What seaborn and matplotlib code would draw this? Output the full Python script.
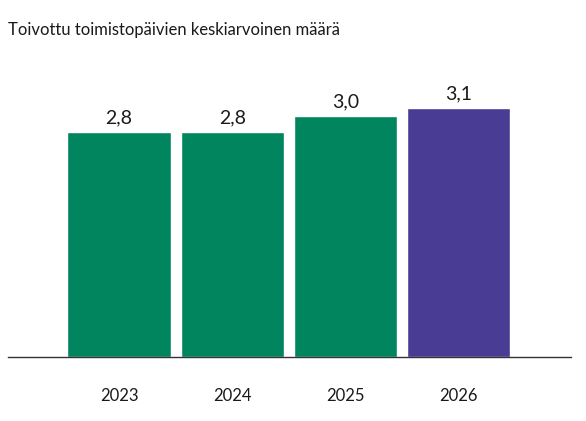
import matplotlib
matplotlib.use("Agg")
import matplotlib.pyplot as plt
import seaborn as sns
import pandas as pd

years = ["2023", "2024", "2025", "2026"]
values = [2.8, 2.8, 3.0, 3.1]
labels = ["2,8", "2,8", "3,0", "3,1"]
colors = ["#00855F", "#00855F", "#00855F", "#483C95"]

sns.set_style("white")
plt.rcParams['font.family'] = ['Lato', 'DejaVu Sans']

fig = plt.figure(figsize=(5.86, 4.21), dpi=100)
ax = fig.add_axes([8/586, 1-357/421, (571-8)/586, (357-60)/421])
df = pd.DataFrame({"year": years, "v": values})
sns.barplot(data=df, x="year", y="v", hue="year", palette=colors, width=0.91,
            legend=False, ax=ax, saturation=1)
ax.set_xlim(-0.98, 3.99)
ax.set_ylim(0, (357-60)/80.4)
for i, (v, l) in enumerate(zip(values, labels)):
    ax.text(i, v + 0.07, l, ha="center", va="bottom", fontsize=14, color="#1a1a1a")
for s in ["top", "right", "left"]:
    ax.spines[s].set_visible(False)
ax.spines["bottom"].set_color("#333333")
ax.spines["bottom"].set_linewidth(1)
ax.set_yticks([])
ax.set_xlabel("")
ax.set_ylabel("")
ax.tick_params(axis="x", length=0, pad=22, labelsize=12, labelcolor="#1a1a1a")
fig.text(8/586, 1-35/421, "Toivottu toimistopäivien keskiarvoinen määrä", fontsize=12,
         color="#1a1a1a", va="baseline")
fig.savefig("out.png", dpi=100)
